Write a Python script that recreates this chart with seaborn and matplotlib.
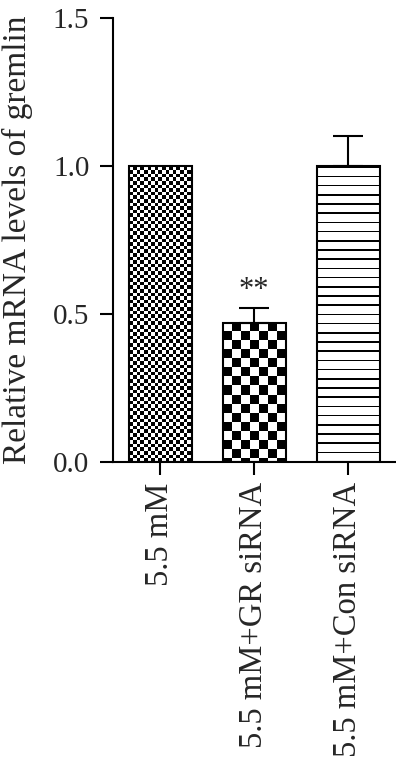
import numpy as np
import pandas as pd
import matplotlib
matplotlib.use("Agg")
import matplotlib.pyplot as plt
import seaborn as sns

## relative mRNA levels of gremlin
groups = ["5.5 mM", "5.5 mM+GR siRNA", "5.5 mM+Con siRNA"]
means = [1.0, 0.47, 1.0]
sems = [0.0, 0.05, 0.10]
yticks = [0.0, 0.5, 1.0, 1.5]

df = pd.DataFrame({"group": groups, "level": means})

sns.set_style("ticks")
plt.rcParams["font.family"] = ["Liberation Serif", "DejaVu Serif"]

fig = plt.figure(figsize=(3.96, 7.62), dpi=100)
ax = fig.add_axes([113 / 396, 1 - 462 / 762, (396 - 113) / 396, (462 - 18) / 762])

sns.barplot(x="group", y="level", data=df, color="white", width=0.67,
            edgecolor="black", linewidth=1.5, ax=ax)
ax.set_xlim(-0.5, 2.51)
ax.set_ylim(0, 1.5)


# --- fill the bars with pixel textures (fine checker / coarse checker / stripes) ---
def texture(kind, h, w):
    yy, xx = np.indices((h, w))
    if kind == "fine":
        return ((xx // 3.6).astype(int) + (yy // 3.6).astype(int)) % 2
    if kind == "coarse":
        return ((xx // 9).astype(int) + (yy // 9).astype(int)) % 2
    return ((yy % 9.2) < 1.6).astype(int)


kinds = ["fine", "coarse", "lines"]
fig.canvas.draw()
for patch, kind in zip(ax.patches, kinds):
    x0, y0 = patch.get_x(), patch.get_y()
    x1, y1 = x0 + patch.get_width(), y0 + patch.get_height()
    (px0, py0), (px1, py1) = ax.transData.transform([(x0, y0), (x1, y1)])
    w = int(round(px1 - px0))
    h = int(round(py1 - py0))
    img = texture(kind, h, w)
    im = ax.imshow(img, cmap="gray_r", extent=(x0, x1, y0, y1), origin="upper",
                   interpolation="nearest", aspect="auto", zorder=1.5, vmin=0, vmax=1)
    im.set_clip_path(patch)
    patch.set_facecolor("none")
    patch.set_zorder(2)

ax.set_xlim(-0.5, 2.51)
ax.set_ylim(0, 1.5)

# upper error bars only
xs = np.arange(len(groups))
ax.errorbar(xs[1:], means[1:], yerr=[np.zeros(2), sems[1:]], fmt="none",
            ecolor="black", elinewidth=1.5, capsize=11, capthick=1.5, zorder=3)

ax.text(1, 0.58, "**", ha="center", va="center", fontsize=22)

ax.set_yticks(yticks)
ax.set_yticklabels([f"{t:.1f}" for t in yticks])
ax.set_xlabel("")
ax.set_ylabel("Relative mRNA levels of gremlin", fontsize=24)
ax.yaxis.set_label_coords(-0.283, 0.5)
ax.tick_params(axis="both", width=1.5, length=9.5, color="black")
ax.tick_params(axis="y", pad=7.5, labelsize=21)
ax.tick_params(axis="x", pad=5, labelsize=23.5)
plt.xticks(rotation=90)
for s in ["left", "bottom"]:
    ax.spines[s].set_linewidth(1.5)
    ax.spines[s].set_color("black")
sns.despine(ax=ax)

plt.savefig("out.png", dpi=100)
